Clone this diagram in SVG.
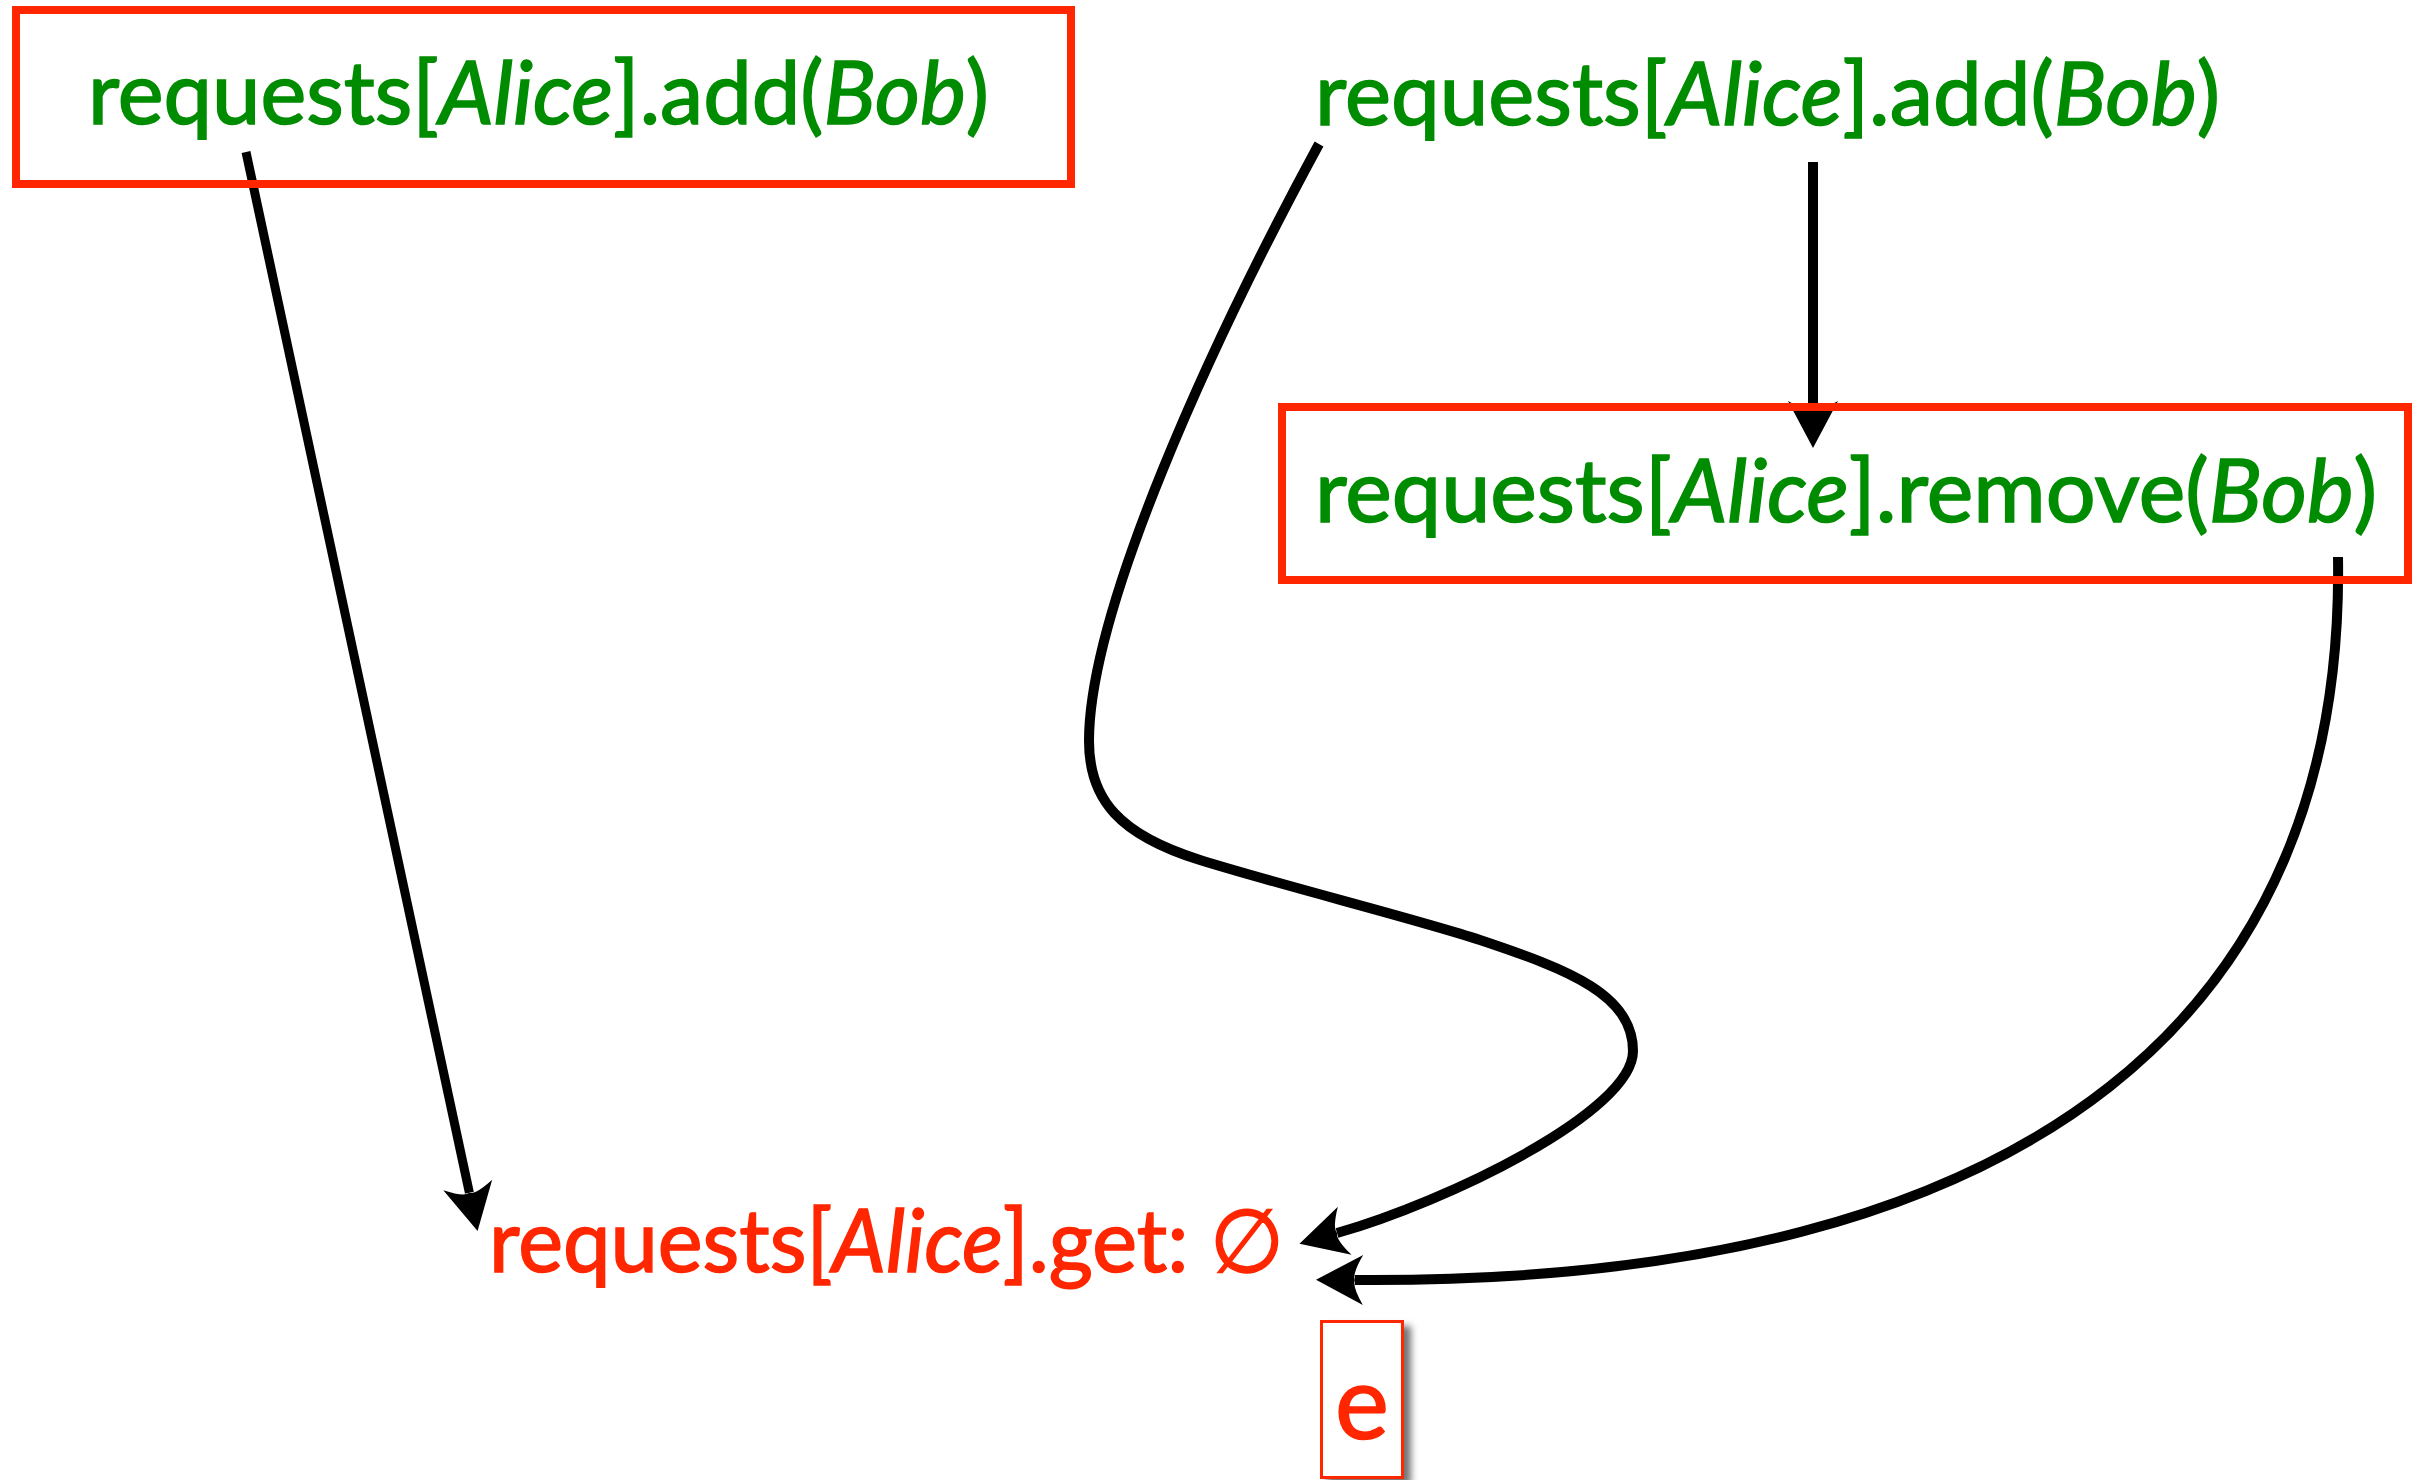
<svg xmlns="http://www.w3.org/2000/svg" width="2416" height="1480" viewBox="0 0 2416 1480">
  <defs>
    <style>
      .lbl { font-family: Lato, "DejaVu Sans", sans-serif; font-size: 88px; stroke-width: 1.6px; }
      .ok { fill: #008C00; stroke: #008C00; }
      .bad { fill: #FF2600; stroke: #FF2600; }
      .it { font-style: italic; }
      .box { fill: none; stroke: #FF2600; stroke-width: 8; }
      .edge { fill: none; stroke: #000; stroke-width: 10; }
    </style>
    <marker id="arrow" markerUnits="userSpaceOnUse" viewBox="-2 -28 54 56" markerWidth="54" markerHeight="56" refX="8" refY="0" orient="auto" overflow="visible">
      <path d="M47,0 L0,-25 Q11,-6 8,0 Q11,6 0,25 Z" fill="#000"/>
    </marker>
    <filter id="shadow" x="-30%" y="-30%" width="160%" height="160%">
      <feDropShadow dx="7" dy="6" stdDeviation="3.5" flood-color="#000" flood-opacity="0.55"/>
    </filter>
  </defs>

  <rect width="2416" height="1480" fill="#fff"/>

  <!-- connectors -->
  <g id="connectors">
    <path class="edge" style="stroke-width:9" d="M246,152 L469.4,1192.8" marker-end="url(#arrow)"/>
    <path class="edge" d="M1813,162 L1813,409" marker-end="url(#arrow)"/>
    <path class="edge" d="M1319,144 C1210,345 1089,610 1089,741 C1089,800 1120,835 1200,860 C1280,885 1420,920 1480,940 C1570,970 1633,995 1633,1051 C1633,1112 1446,1202 1337,1233" marker-end="url(#arrow)"/>
    <path class="edge" d="M2338,557 C2345,1000 2050,1285 1355,1280" marker-end="url(#arrow)"/>
  </g>

  <!-- first add, boxed -->
  <g id="add-left">
    <rect class="box" x="16" y="10" width="1055" height="174"/>
    <text class="lbl ok" x="88" y="124" textLength="901" lengthAdjust="spacingAndGlyphs">requests[<tspan class="it">Alice</tspan>].add(<tspan class="it">Bob</tspan>)</text>
  </g>

  <!-- second add -->
  <g id="add-right">
    <text class="lbl ok" x="1315" y="125" textLength="905" lengthAdjust="spacingAndGlyphs">requests[<tspan class="it">Alice</tspan>].add(<tspan class="it">Bob</tspan>)</text>
  </g>

  <!-- remove, boxed -->
  <g id="remove">
    <rect class="box" x="1282" y="407" width="1126" height="173"/>
    <text class="lbl ok" x="1315" y="522" textLength="1062" lengthAdjust="spacingAndGlyphs">requests[<tspan class="it">Alice</tspan>].remove(<tspan class="it">Bob</tspan>)</text>
  </g>

  <!-- resulting read -->
  <g id="get">
    <text class="lbl bad" x="489" y="1272" textLength="795" lengthAdjust="spacingAndGlyphs">requests[<tspan class="it">Alice</tspan>].get: ∅</text>
  </g>

  <!-- event tag -->
  <g id="tag-e">
    <rect x="1321.5" y="1321.5" width="81" height="156" fill="#fff" stroke="#FF2600" stroke-width="3" filter="url(#shadow)"/>
    <text x="1362" y="1439" text-anchor="middle" font-family="Lato, sans-serif" font-size="102" fill="#FF2600" stroke="#FF2600" stroke-width="1.6">e</text>
  </g>
</svg>
